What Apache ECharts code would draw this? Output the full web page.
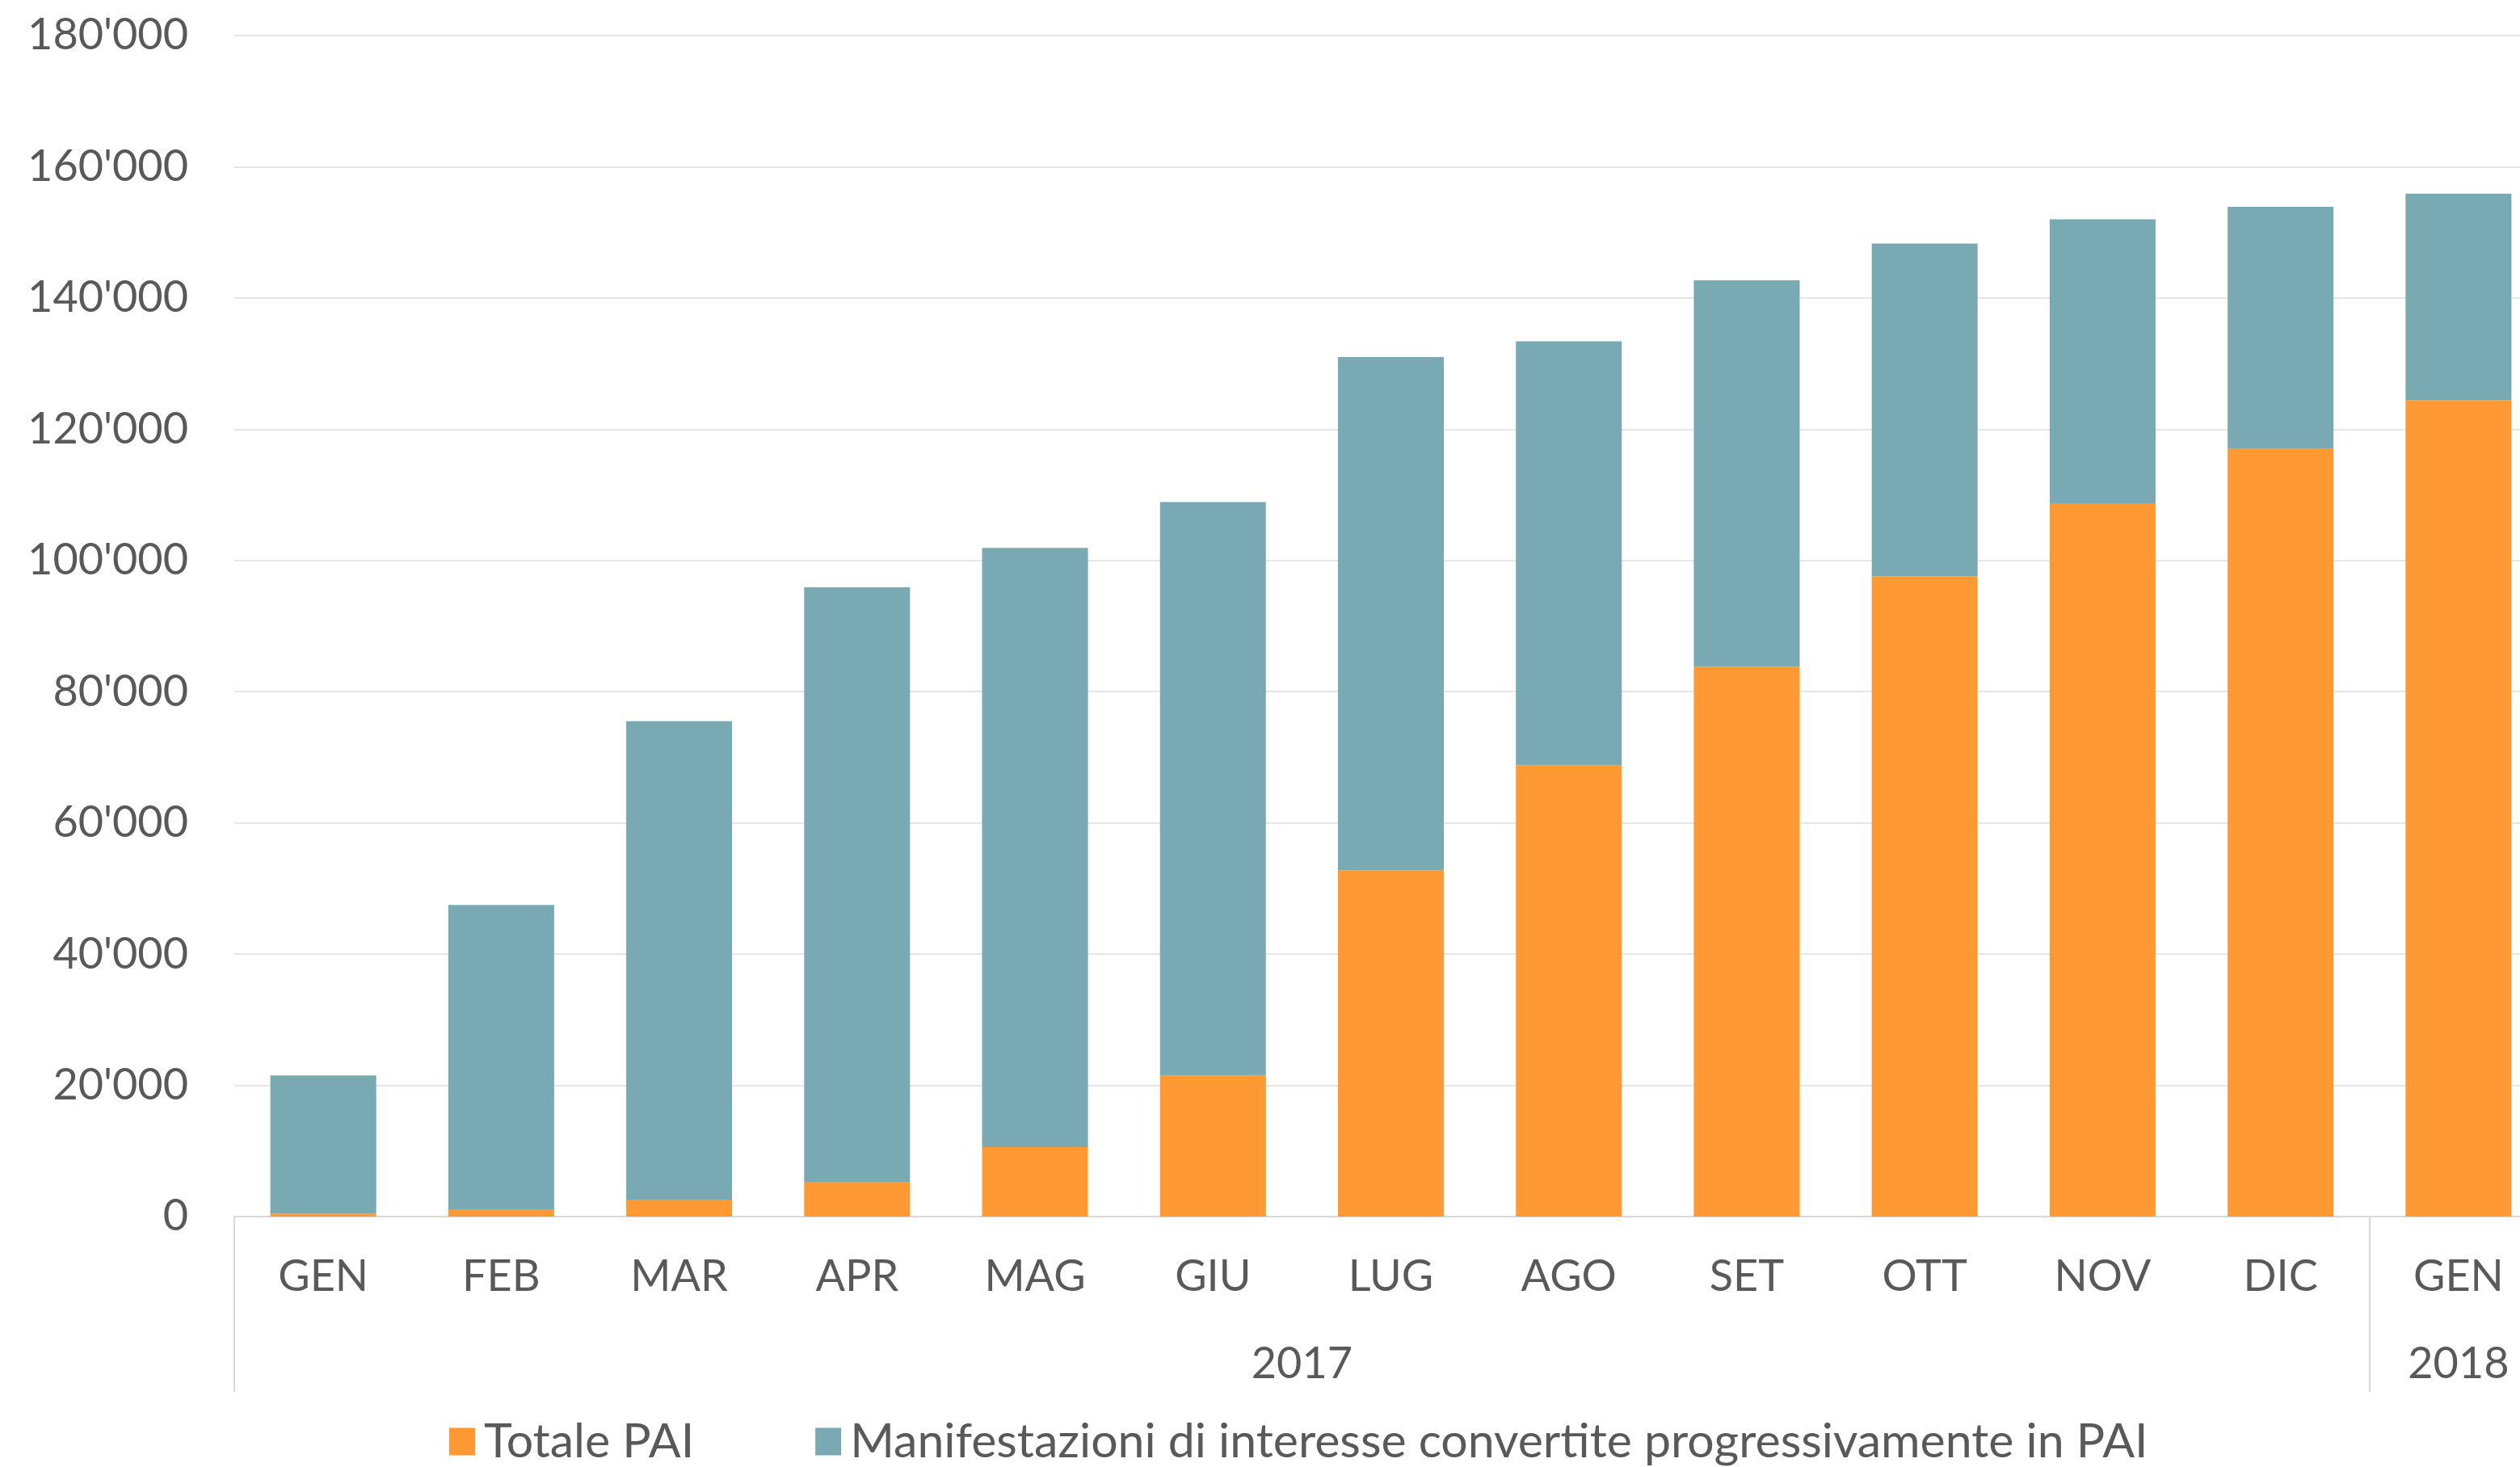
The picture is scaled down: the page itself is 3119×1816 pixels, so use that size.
<!DOCTYPE html>
<html>
<head>
<meta charset="utf-8">
<title>PAI</title>
<script src="https://cdn.jsdelivr.net/npm/echarts@6/dist/echarts.min.js"></script>
<style>
  html, body { margin: 0; padding: 0; background: #fff; }
  #chart { width: 3119px; height: 1816px; }
</style>
</head>
<body>
<div id="chart"></div>
<script>
// mesi (2017 + gennaio 2018)
var months = ['GEN', 'FEB', 'MAR', 'APR', 'MAG', 'GIU', 'LUG', 'AGO', 'SET', 'OTT', 'NOV', 'DIC', 'GEN'];
var years = ['2017', '2018'];
var totalePAI = [450, 1100, 2500, 5200, 10600, 21500, 52800, 68800, 83800, 97600, 108700, 117100, 124400];
var manifestazioni = [21050, 46400, 73000, 90700, 91300, 87400, 78200, 64600, 58900, 50700, 43300, 36800, 31500];
var seriesNames = ['Totale PAI', 'Manifestazioni di interesse convertite progressivamente in PAI'];

var textColor = '#595959';
var lineColor = '#d9d9d9';
var font = 'Lato';

var fmt = function (v) {
    return String(v).replace(/\B(?=(\d{3})+(?!\d))/g, "'");
};

var myChart = echarts.init(document.getElementById('chart'));
var option = {
    animation: false,
    textStyle: { fontFamily: font },
    grid: {
        left: 290,
        top: 44,
        right: -34,
        bottom: 310,
        outerBoundsMode: 'none'
    },
    legend: {
        left: 551,
        top: 1750,
        itemWidth: 32,
        itemHeight: 34,
        itemGap: 150,
        icon: 'rect',
        textStyle: { fontFamily: font, fontSize: 59, color: textColor, padding: [0, 0, 0, 6] },
        data: seriesNames
    },
    xAxis: [{
        type: 'category',
        data: months,
        axisLine: { lineStyle: { color: lineColor, width: 2 } },
        axisTick: {
            show: true,
            length: 217,
            interval: function (index) { return index === 0 || index === 12; },
            lineStyle: { color: lineColor, width: 2 }
        },
        axisLabel: { fontFamily: font, fontSize: 54, color: textColor, margin: 48, interval: 0 }
    }],
    yAxis: [{
        type: 'value',
        min: 0,
        max: 180000,
        interval: 20000,
        axisLine: { show: false },
        axisTick: { show: false },
        splitLine: { lineStyle: { color: '#e6e6e6', width: 2 } },
        axisLabel: { fontFamily: font, fontSize: 54, color: textColor, margin: 57, formatter: fmt }
    }],
    series: [
        {
            name: seriesNames[0],
            type: 'bar',
            stack: 'tot',
            barWidth: '59.5%',
            itemStyle: { color: '#ff9933' },
            data: totalePAI
        },
        {
            name: seriesNames[1],
            type: 'bar',
            stack: 'tot',
            barWidth: '59.5%',
            itemStyle: { color: '#79aab4' },
            data: manifestazioni
        }
    ]
};
myChart.setOption(option);

// etichette degli anni sotto i mesi
var y0 = myChart.convertToPixel({ yAxisIndex: 0 }, 0);
var x17 = (myChart.convertToPixel({ xAxisIndex: 0 }, 5) + myChart.convertToPixel({ xAxisIndex: 0 }, 6)) / 2;
var x18 = myChart.convertToPixel({ xAxisIndex: 0 }, 12);
myChart.setOption({
    graphic: [
        { type: 'text', x: x17, y: y0 + 183, style: { text: years[0], fill: textColor, font: '54px ' + font, align: 'center', verticalAlign: 'middle' } },
        { type: 'text', x: x18, y: y0 + 183, style: { text: years[1], fill: textColor, font: '54px ' + font, align: 'center', verticalAlign: 'middle' } }
    ]
});
window.onresize = myChart.resize;
</script>
</body>
</html>
